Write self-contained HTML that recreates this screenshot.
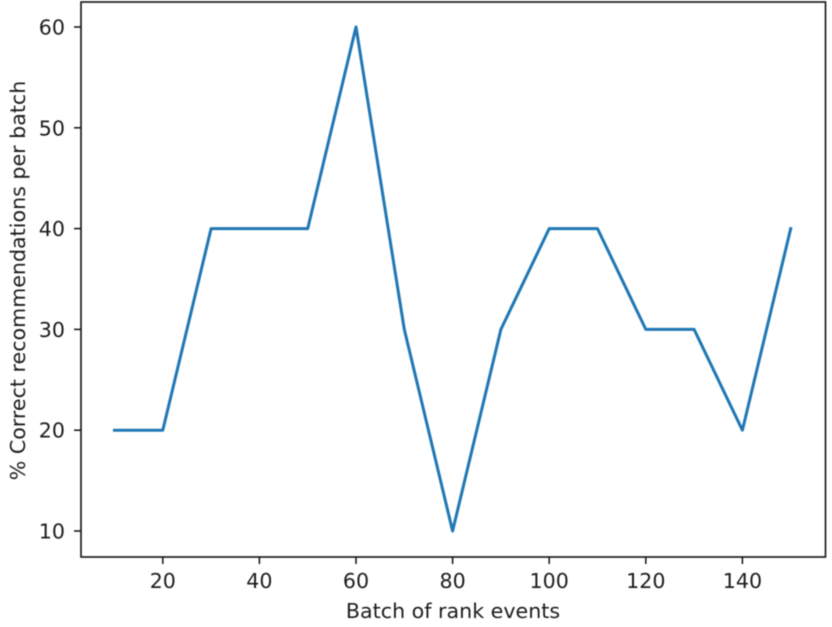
<!DOCTYPE html>
<html>
<head>
<meta charset="utf-8">
<style>
html,body{margin:0;padding:0;background:#fff;}
svg{display:block;filter:blur(0.55px);}
text{font-family:"DejaVu Sans",sans-serif;font-size:20.6px;fill:#1c1c1c;}
</style>
</head>
<body>
<svg id="chart" width="832" height="627" viewBox="0 0 832 627" xmlns="http://www.w3.org/2000/svg"></svg>
<script>
const batches = [10, 20, 30, 40, 50, 60, 70, 80, 90, 100, 110, 120, 130, 140, 150];
const correctPercent = [20, 20, 40, 40, 40, 60, 30, 10, 30, 40, 40, 30, 30, 20, 40];
const xTicks = [20, 40, 60, 80, 100, 120, 140];
const yTicks = [10, 20, 30, 40, 50, 60];
const xTitle = 'Batch of rank events';
const yTitle = '% Correct recommendations per batch';

const svg = document.getElementById('chart');
const NS = 'http://www.w3.org/2000/svg';
const plot = {left: 81, right: 825.5, top: 2, bottom: 557};
const xScale = v => 162.8 + (v - 20) * (742.4 - 162.8) / 120;
const yScale = v => 531 + (v - 10) * (27 - 531) / 50;

function make(tag, attrs, parent) {
  const el = document.createElementNS(NS, tag);
  for (const k in attrs) el.setAttribute(k, attrs[k]);
  (parent || svg).appendChild(el);
  return el;
}

const frame = make('rect', {x: plot.left, y: plot.top, width: plot.right - plot.left, height: plot.bottom - plot.top, fill: '#fff', stroke: '#111', 'stroke-width': 1.6});



xTicks.forEach(v => {
  const x = xScale(v);
  const tick = make('line', {x1: x, x2: x, y1: plot.bottom, y2: plot.bottom + 7, stroke: '#111', 'stroke-width': 1.5});
  
  
  const label = make('text', {x: x, y: 588, 'text-anchor': 'middle'});
  label.textContent = v;
  
  
});

yTicks.forEach(v => {
  const y = yScale(v);
  const tick = make('line', {x1: plot.left - 7, x2: plot.left, y1: y, y2: y, stroke: '#111', 'stroke-width': 1.5});
  
  
  const label = make('text', {x: 65, y: y + 7.5, 'text-anchor': 'end'});
  label.textContent = v;
  
  
});

const points = batches.map((b, i) => xScale(b) + ',' + yScale(correctPercent[i])).join(' ');
const line = make('polyline', {points: points, fill: 'none', stroke: '#1f77b4', 'stroke-width': 3, 'stroke-linejoin': 'round', 'stroke-linecap': 'square'});



const xt = make('text', {x: 453, y: 618, 'text-anchor': 'middle'});
xt.textContent = xTitle;



const yt = make('text', {x: 25, y: 280.5, 'text-anchor': 'middle', transform: 'rotate(-90 25 280.5)'});
yt.textContent = yTitle;


</script>
</body>
</html>
